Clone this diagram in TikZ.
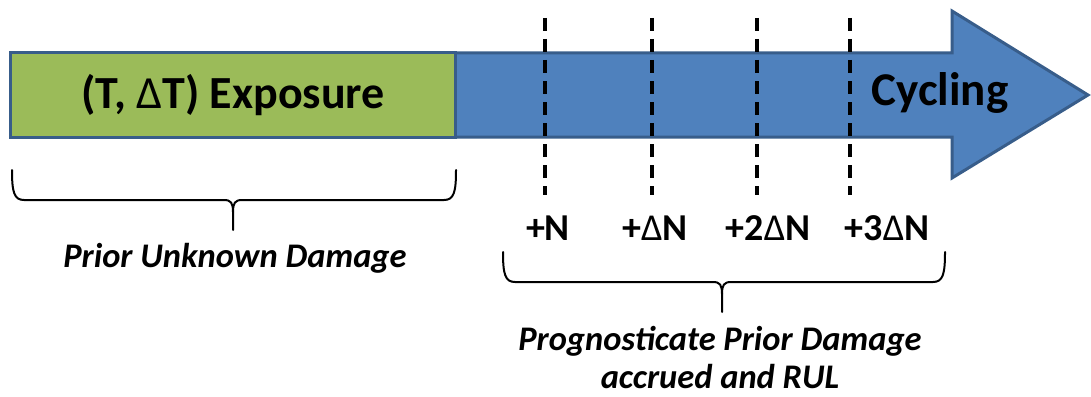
\documentclass[tikz,border=0pt]{standalone}
\usepackage{fontspec}
\setmainfont{Carlito}
\usetikzlibrary{calc}
\definecolor{barblue}{RGB}{79,129,189}
\definecolor{bargreen}{RGB}{155,187,89}
\definecolor{edgeblue}{RGB}{56,93,138}
\tikzset{
  bar/.style={draw=edgeblue, line width=3pt, line join=miter},
  tick/.style={draw=black, line width=3.2pt, dash pattern=on 13pt off 8pt},
  brace/.style={draw=black, line width=2pt, line join=round, line cap=round},
  ticklabel/.style={font=\fontsize{38}{42}\selectfont\bfseries, inner sep=0pt},
  note/.style={font=\fontsize{34.5}{38}\selectfont\bfseries\itshape, align=center, inner sep=0pt},
}
% thin delta, as in a symbol font
\newcommand{\thindelta}{{\mdseries Δ}}
% draws an underbrace: left end (#1), right end (#2), middle x #3, bar y #4, tip y #5
\newcommand{\curlybrace}[5]{%
  \draw[brace] (#1) .. controls ($(#1)+(0,22)$) and ($(#1)+(2,30)$) .. ($(#1)+(12,30)$)
     -- (#3-9,#4) .. controls (#3-2,#4) and (#3,#4+3) .. (#3,#4+12) -- (#3,#5);
  \draw[brace] (#2) .. controls ($(#2)+(0,22)$) and ($(#2)+(-2,30)$) .. ($(#2)+(-12,30)$)
     -- (#3+9,#4) .. controls (#3+2,#4) and (#3,#4+3) .. (#3,#4+12);
}
\begin{document}
\begin{tikzpicture}[x=1pt,y=-1pt]
  \useasboundingbox (0,0) rectangle (1091,396);

  % timeline arrow
  \draw[bar, fill=barblue] (455,53) -- (952,53) -- (952,11) -- (1088,95)
        -- (952,178) -- (952,137) -- (455,137) -- cycle;
  \node[font=\fontsize{47}{52}\selectfont\bfseries, inner sep=0pt] (cyc) at (940,93) {Cycling};

  % exposure phase
  \node[bar, fill=bargreen, minimum width=445pt, minimum height=84pt, inner sep=0pt,
        font=\fontsize{46}{50}\selectfont\bfseries] (expo) at (233,95) {(T, \thindelta T) Exposure};

  % inspection intervals
  \foreach \i/\x in {1/545, 2/652, 3/757, 4/850} {
    \coordinate (t\i a) at (\x,18);
    \coordinate (t\i b) at (\x,195);
    \draw[tick] (t\i a) -- (t\i b);
  }
  \node[ticklabel] (l1) at (548,228) {+N};
  \node[ticklabel] (l2) at (655,228) {+\thindelta N};
  \node[ticklabel] (l3) at (768,228) {+2\thindelta N};
  \node[ticklabel] (l4) at (887,228) {+3\thindelta N};

  % braces
  \coordinate (b1l) at (12,170);
  \coordinate (b1r) at (456,170);
  \curlybrace{b1l}{b1r}{233}{200}{230}
  \node[note] (prior) at (235,258) {Prior Unknown Damage};

  \coordinate (b2l) at (503,252);
  \coordinate (b2r) at (945,252);
  \curlybrace{b2l}{b2r}{722}{282}{312}
  \node[note] (prog) at (720,358) {Prognosticate Prior Damage\\accrued and RUL};
\end{tikzpicture}
\end{document}
